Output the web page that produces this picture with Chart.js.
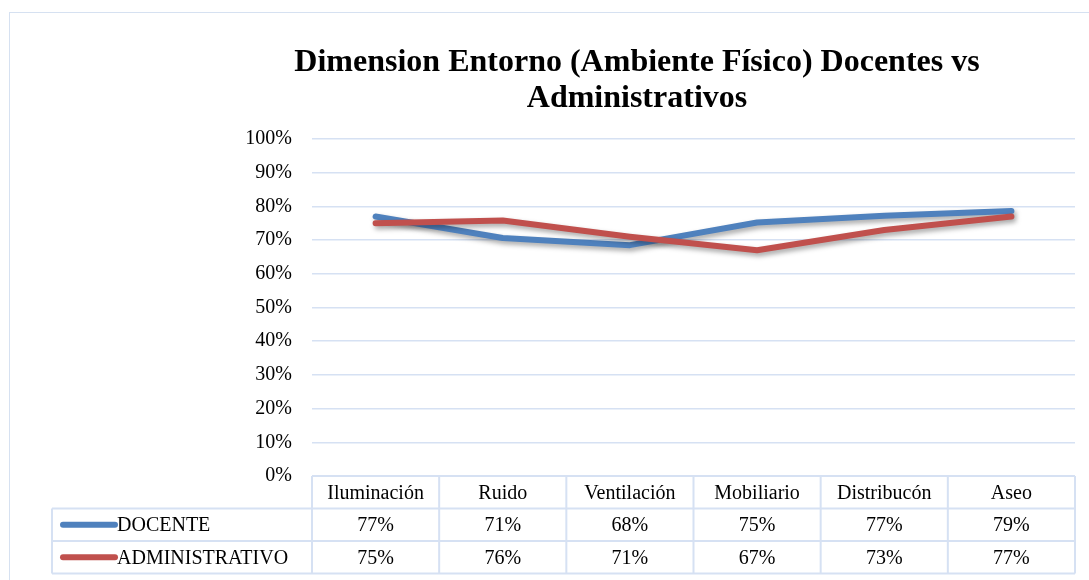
<!DOCTYPE html>
<html>
<head>
<meta charset="utf-8">
<script src="https://cdn.jsdelivr.net/npm/chart.js@4.4.1/dist/chart.umd.min.js"></script>
<style>
  html, body { margin: 0; padding: 0; background: #fff; overflow: hidden; }
  #marco {
    position: absolute; left: 9px; top: 12px;
    width: 1254px; height: 580px;
    border: 1px solid #d6e1f1;
  }
</style>
</head>
<body>
<div id="marco"><canvas id="chart-line_entorno" width="1254" height="580"></canvas></div>
<script>
// ------------- DATOS
const categorias = ['Iluminación', 'Ruido', 'Ventilación', 'Mobiliario', 'Distribucón', 'Aseo'];
const serieDocente = [0.77, 0.706, 0.685, 0.752, 0.772, 0.786];
const serieAdministrativo = [0.75, 0.758, 0.71, 0.67, 0.73, 0.77];
const tablaDocente = ['77%', '71%', '68%', '75%', '77%', '79%'];
const tablaAdministrativo = ['75%', '76%', '71%', '67%', '73%', '77%'];
const ticksY = [0, 0.1, 0.2, 0.3, 0.4, 0.5, 0.6, 0.7, 0.8, 0.9, 1];

const fuente = "'Liberation Serif', 'Times New Roman', serif";
const colorGrid = 'rgb(214, 225, 243)';
const azul = '#4f81bd';
const rojo = '#c0504d';

// sombra debajo de las lineas (como Excel)
const sombraLineas = {
  id: 'sombraLineas',
  beforeDatasetDraw(chart) {
    const ctx = chart.ctx;
    ctx.save();
    ctx.shadowColor = 'rgba(0,0,0,0.35)';
    ctx.shadowBlur = 5;
    ctx.shadowOffsetX = 2;
    ctx.shadowOffsetY = 3;
  },
  afterDatasetDraw(chart) {
    chart.ctx.restore();
  }
};

// ---------- TABLA DE DATOS DEBAJO DEL GRAFICO
const tablaDatos = {
  id: 'tablaDatos',
  afterDraw(chart) {
    const ctx = chart.ctx;
    const xs = chart.scales.x;
    const area = chart.chartArea;
    const paso = xs.getPixelForValue(1) - xs.getPixelForValue(0);
    const izq = xs.getPixelForValue(0) - paso / 2;
    const der = xs.getPixelForValue(categorias.length - 1) + paso / 2;
    const leyIzq = 42;
    const alto = 32.5;
    const y0 = area.bottom;
    const y1 = y0 + alto, y2 = y1 + alto, y3 = y2 + alto;

    ctx.save();
    ctx.strokeStyle = colorGrid;
    ctx.lineWidth = 2;
    ctx.beginPath();
    ctx.moveTo(izq, y0); ctx.lineTo(der, y0);
    ctx.moveTo(leyIzq, y1); ctx.lineTo(der, y1);
    ctx.moveTo(leyIzq, y2); ctx.lineTo(der, y2);
    ctx.moveTo(leyIzq, y3); ctx.lineTo(der, y3);
    ctx.moveTo(leyIzq, y1); ctx.lineTo(leyIzq, y3);
    for (let i = 0; i <= categorias.length; i++) {
      const x = izq + i * paso;
      ctx.moveTo(x, y0); ctx.lineTo(x, y3);
    }
    ctx.stroke();

    ctx.fillStyle = '#000';
    ctx.font = '20px ' + fuente;
    ctx.textAlign = 'center';
    ctx.textBaseline = 'middle';
    categorias.forEach(function (c, i) {
      const cx = xs.getPixelForValue(i);
      ctx.fillText(c, cx, y0 + alto / 2 + 1);
      ctx.fillText(tablaDocente[i], cx, y1 + alto / 2 + 1);
      ctx.fillText(tablaAdministrativo[i], cx, y2 + alto / 2 + 1);
    });

    // leyenda
    const filas = [[azul, 'DOCENTE', y1], [rojo, 'ADMINISTRATIVO', y2]];
    ctx.lineCap = 'round';
    ctx.lineWidth = 6;
    filas.forEach(function (f) {
      const cy = f[2] + alto / 2;
      ctx.strokeStyle = f[0];
      ctx.beginPath();
      ctx.moveTo(53, cy); ctx.lineTo(105, cy);
      ctx.stroke();
      ctx.textAlign = 'left';
      ctx.fillText(f[1], 107, cy + 1);
    });
    ctx.restore();
  }
};

const ctx = document.getElementById('chart-line_entorno').getContext('2d');
const myChartEntorno = new Chart(ctx, {
  type: 'line',
  data: {
    labels: categorias,
    datasets: [{
      label: 'DOCENTE',
      data: serieDocente,
      borderColor: azul,
      backgroundColor: azul,
      borderWidth: 6,
      pointRadius: 0,
      borderCapStyle: 'round',
      borderJoinStyle: 'round',
      order: 1
    }, {
      label: 'ADMINISTRATIVO',
      data: serieAdministrativo,
      borderColor: rojo,
      backgroundColor: rojo,
      borderWidth: 6,
      pointRadius: 0,
      borderCapStyle: 'round',
      borderJoinStyle: 'round',
      order: 0
    }]
  },
  options: {
    responsive: false,
    animation: false,
    layout: { padding: 0 },
    plugins: {
      legend: { display: false },
      tooltip: { enabled: false },
      title: {
        display: true,
        text: ['Dimension Entorno (Ambiente Físico) Docentes vs', 'Administrativos'],
        color: '#000',
        font: { family: fuente, size: 32, weight: 'bold', lineHeight: 1.125 },
        padding: { top: 32, bottom: 22 }
      }
    },
    scales: {
      x: {
        offset: true,
        grid: { display: false, drawTicks: false },
        border: { display: false },
        ticks: { display: false },
        afterFit: function (scale) { scale.height = 117; }
      },
      y: {
        min: 0,
        max: 1,
        afterBuildTicks: function (scale) {
          scale.ticks = ticksY.map(function (v) { return { value: v }; });
        },
        grid: { color: colorGrid, lineWidth: 1.5, drawTicks: false },
        border: { display: false },
        ticks: {
          color: '#000',
          padding: 20,
          font: { family: fuente, size: 20 },
          callback: function (v) { return Math.round(v * 100) + '%'; }
        },
        afterFit: function (scale) { scale.width = 302; }
      },
      // espacio vacio a la derecha del area de trazado
      derecha: {
        type: 'linear',
        position: 'right',
        grid: { display: false, drawTicks: false },
        border: { display: false },
        ticks: { display: false },
        afterFit: function (scale) { scale.width = 189; }
      }
    }
  },
  plugins: [sombraLineas, tablaDatos]
});
</script>
</body>
</html>
